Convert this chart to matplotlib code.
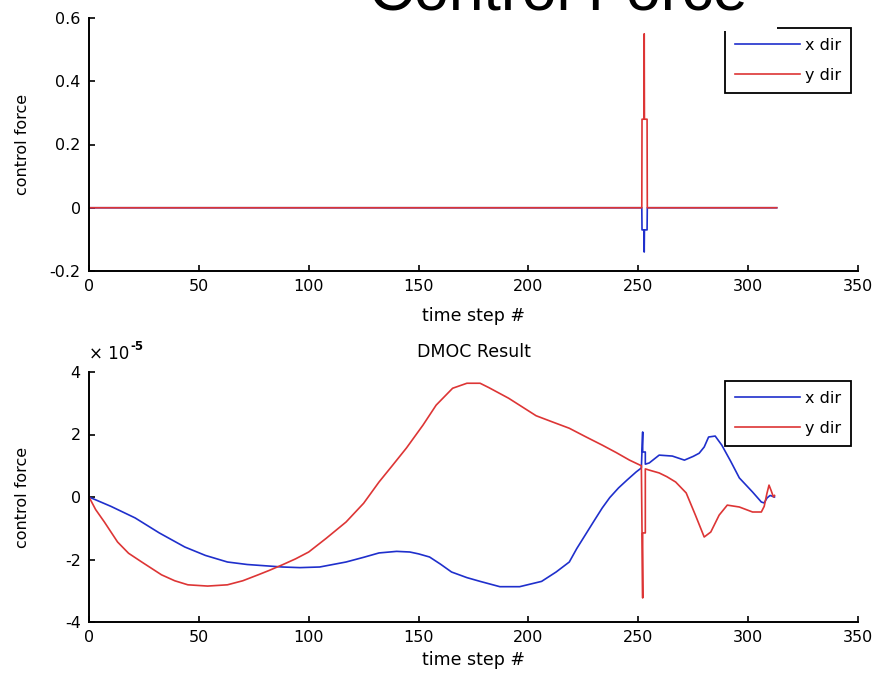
import matplotlib
matplotlib.use("Agg")
import matplotlib.pyplot as plt
from matplotlib.patches import Rectangle

plt.rcParams['font.family'] = ['DejaVu Sans']
plt.rcParams['axes.unicode_minus'] = False

# ---- data ----
top_t = [0, 251.6, 251.7, 252.6, 252.7, 252.8, 254.0, 254.1, 313]
top_x = [0, 0, -0.07, -0.07, -0.14, -0.07, -0.07, 0, 0]
top_y = [0, 0, 0.28, 0.28, 0.55, 0.28, 0.28, 0, 0]

bx_t = [0, 10, 21, 32, 43.6, 53, 63, 72, 80, 88, 96, 105, 117, 125, 132, 140, 146, 150, 155, 160,
        165, 172, 178, 187, 196, 206, 212.6, 218.6, 222, 226, 230, 233.6, 237, 241, 245, 249, 251.4,
        252.0, 252.0, 253.2, 253.2, 255, 259.5, 265.5, 271, 275, 277.7, 280, 282, 285, 288, 292, 296,
        302, 306, 307.3, 308.6, 310, 312]
bx_v = [0, -0.3, -0.67, -1.15, -1.6, -1.87, -2.08, -2.16, -2.2, -2.24, -2.26, -2.24, -2.08, -1.93,
        -1.79, -1.74, -1.76, -1.82, -1.92, -2.15, -2.4, -2.58, -2.7, -2.87, -2.87, -2.7, -2.4, -2.08,
        -1.65, -1.2, -0.75, -0.35, -0.02, 0.29, 0.55, 0.8, 0.93, 2.08, 1.44, 1.44, 1.05, 1.09, 1.34,
        1.31, 1.18, 1.3, 1.4, 1.6, 1.92, 1.95, 1.66, 1.15, 0.61, 0.16, -0.16, -0.19, -0.03, 0.05, 0.0]

by_t = [0, 3, 7, 13, 18, 24, 33, 39, 45, 54, 63, 70, 77, 82, 88, 94, 100, 108, 117, 125, 132, 138,
        144.5, 152, 158, 165.5, 172, 178, 182, 191, 203.5, 211, 218.6, 226, 233.6, 240, 246, 251.4,
        252.0, 252.0, 253.2, 253.2, 255, 259.5, 263, 267, 271.8, 276, 280, 283, 286.8, 290.5, 296,
        302, 306, 307.3, 308.5, 309.5, 310.5, 311.5, 312]
by_v = [0, -0.4, -0.8, -1.44, -1.8, -2.08, -2.49, -2.68, -2.81, -2.85, -2.81, -2.68, -2.49, -2.35,
        -2.17, -1.98, -1.76, -1.32, -0.8, -0.2, 0.48, 1.0, 1.57, 2.3, 2.94, 3.48, 3.64, 3.64, 3.5,
        3.16, 2.6, 2.4, 2.2, 1.93, 1.66, 1.42, 1.18, 1.0, -3.23, -1.15, -1.15, 0.9, 0.86, 0.77, 0.65,
        0.48, 0.13, -0.58, -1.28, -1.12, -0.58, -0.26, -0.32, -0.48, -0.48, -0.3, 0.1, 0.38, 0.2,
        0.0, 0.05]

x_ticks = [0, 50, 100, 150, 200, 250, 300, 350]
top_yticks = [-0.2, 0, 0.2, 0.4, 0.6]
top_yticklabels = ['-0.2', '0', '0.2', '0.4', '0.6']
bot_yticks = [-4, -2, 0, 2, 4]
bot_yticklabels = ['-4', '-2', '0', '2', '4']
labels = ['x dir', 'y dir']

BLUE = '#1f2fcc'
RED = '#dd3535'
TFS = 11.5   # tick / legend font
LFS = 12.5   # x label font
YFS = 11.5   # y label font

W, H = 891, 680
fig = plt.figure(figsize=(W / 100, H / 100), dpi=100)
ax1 = fig.add_axes([89 / W, 1 - 271 / H, 769 / W, 253 / H])
ax2 = fig.add_axes([89 / W, 1 - 622 / H, 769 / W, 250 / H])


def style(ax):
    for s in ['top', 'right']:
        ax.spines[s].set_visible(False)
    for s in ['left', 'bottom']:
        ax.spines[s].set_linewidth(1.4)
    ax.tick_params(direction='in', length=4.5, width=1.2, labelsize=TFS, pad=6)
    ax.set_xlim(0, 350)
    ax.set_xticks(x_ticks)
    ax.set_xticklabels([str(v) for v in x_ticks])


ax1.plot(top_t, top_x, color=BLUE, lw=1.2, label=labels[0])
ax1.plot(top_t, top_y, color=RED, lw=1.2, label=labels[1])
style(ax1)
ax1.set_ylim(-0.2, 0.6)
ax1.set_yticks(top_yticks)
ax1.set_yticklabels(top_yticklabels)
ax1.set_xlabel('time step #', fontsize=LFS)
ax1.set_ylabel('control force', fontsize=YFS)
ax1.xaxis.set_label_coords(0.5, -(307 - 271) / 253)
ax1.yaxis.set_label_coords((30 - 89) / 769, 0.5)

ax2.plot(bx_t, bx_v, color=BLUE, lw=1.2, label=labels[0])
ax2.plot(by_t, by_v, color=RED, lw=1.2, label=labels[1])
style(ax2)
ax2.set_ylim(-4, 4)
ax2.set_yticks(bot_yticks)
ax2.set_yticklabels(bot_yticklabels)
ax2.set_xlabel('time step #', fontsize=LFS)
ax2.set_ylabel('control force', fontsize=YFS)
ax2.xaxis.set_label_coords(0.5, -(651 - 622) / 250)
ax2.yaxis.set_label_coords((30 - 89) / 769, 0.5)
ax2.set_title('DMOC Result', fontsize=12.5, pad=11)
ax2.text(0.0, 1.035, '× 10', transform=ax2.transAxes, fontsize=12, ha='left', va='bottom')
ax2.text(0.054, 1.075, '-5', transform=ax2.transAxes, fontsize=8.5, fontweight='bold',
         ha='left', va='bottom')

for ax, top in [(ax1, (271 - 28) / 253), (ax2, (622 - 381) / 250)]:
    leg = ax.legend(loc='upper right', bbox_to_anchor=(0.991, top), fontsize=TFS,
                    handlelength=4.1, handletextpad=0.3, labelspacing=0.95,
                    borderpad=0.62, borderaxespad=0, fancybox=False, framealpha=1,
                    edgecolor='black')
    leg.get_frame().set_linewidth(1.3)

# white backing of the big title (it hides the corner of the top legend)
fig.add_artist(Rectangle((365 / W, 1 - 31 / H), (777 - 365) / W, 31 / H,
                         transform=fig.transFigure, facecolor='white', edgecolor='none',
                         zorder=9))
fig.text(558.5 / W, 1 - 10 / H, 'Control Force', fontsize=45, ha='center', va='baseline',
         family='Liberation Sans', zorder=10)

fig.savefig('out.png', dpi=100, facecolor='white')
